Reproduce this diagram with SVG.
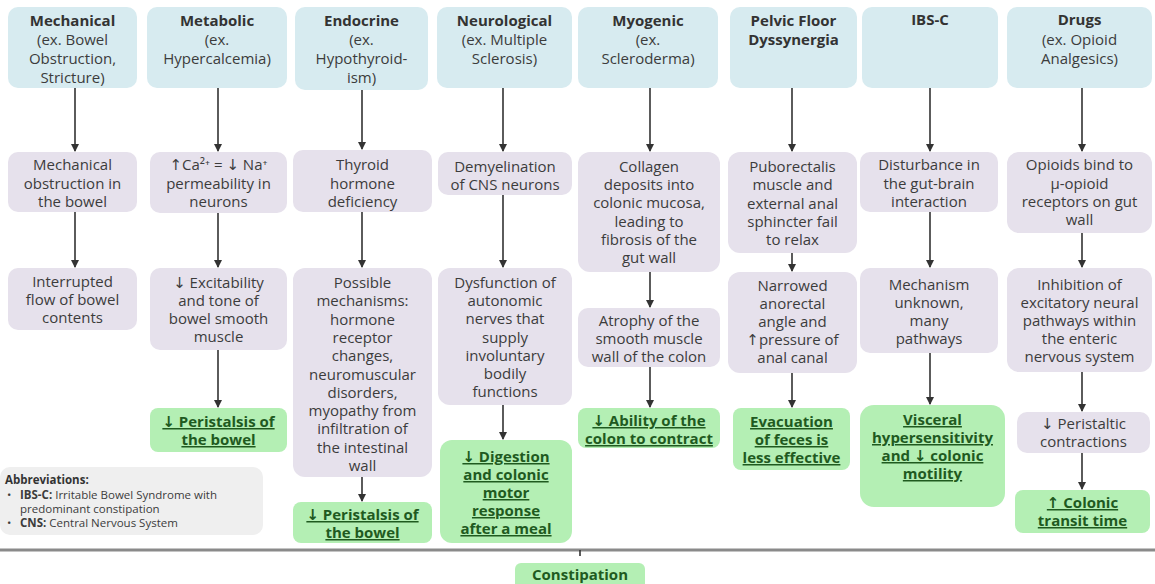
<svg xmlns="http://www.w3.org/2000/svg" width="1155" height="584" viewBox="0 0 1155 584">
<defs>
<marker id="ah" markerWidth="8" markerHeight="8" refX="7" refY="4" orient="auto" markerUnits="userSpaceOnUse">
<path d="M0,0 L8,4 L0,8 Z" fill="#333"/>
</marker>
<style>
.hdr{fill:#d7ebf0}
.mid{fill:#e6e1ec}
.grn{fill:#b4efb4}
.abb{fill:#efefef}
text{font-family:"Open Sans","DejaVu Sans",sans-serif;font-size:15px;text-anchor:middle;fill:#3c3c3c}
.b{font-weight:bold;fill:#333}
.g{font-weight:bold;fill:#1f5a1f;text-decoration:underline}
.cn{font-weight:bold;fill:#1f5a1f}
.s{font-size:11.5px;text-anchor:start}
.con line{stroke:#333;stroke-width:1.6;marker-end:url(#ah)}
</style>
</defs>
<rect width="1155" height="584" fill="#fff"/>

<!-- Headers -->
<g id="h1"><rect class="hdr" x="8" y="7" width="129" height="81" rx="10"/>
<text x="72.5" y="26" class="b">Mechanical</text><text x="72.5" y="45">(ex. Bowel</text><text x="72.5" y="64">Obstruction,</text><text x="72.5" y="83">Stricture)</text></g>
<g id="h2"><rect class="hdr" x="147" y="7" width="140" height="81" rx="10"/>
<text x="217" y="26" class="b">Metabolic</text><text x="217" y="45">(ex.</text><text x="217" y="64">Hypercalcemia)</text></g>
<g id="h3"><rect class="hdr" x="295" y="7" width="133" height="83" rx="10"/>
<text x="361.5" y="26" class="b">Endocrine</text><text x="361.5" y="45">(ex.</text><text x="361.5" y="64">Hypothyroid-</text><text x="361.5" y="83">ism)</text></g>
<g id="h4"><rect class="hdr" x="437" y="7" width="135" height="81" rx="10"/>
<text x="504.5" y="26" class="b">Neurological</text><text x="504.5" y="45">(ex. Multiple</text><text x="504.5" y="64">Sclerosis)</text></g>
<g id="h5"><rect class="hdr" x="578" y="7" width="140" height="81" rx="10"/>
<text x="648" y="26" class="b">Myogenic</text><text x="648" y="45">(ex.</text><text x="648" y="64">Scleroderma)</text></g>
<g id="h6"><rect class="hdr" x="730" y="7" width="127" height="81" rx="10"/>
<text x="793.5" y="26" class="b">Pelvic Floor</text><text x="793.5" y="45" class="b">Dyssynergia</text></g>
<g id="h7"><rect class="hdr" x="862" y="7" width="136" height="81" rx="10"/>
<text x="930" y="25" class="b">IBS-C</text></g>
<g id="h8"><rect class="hdr" x="1007" y="7" width="145" height="81" rx="10"/>
<text x="1079.5" y="25" class="b">Drugs</text><text x="1079.5" y="45">(ex. Opioid</text><text x="1079.5" y="64">Analgesics)</text></g>

<!-- Column 1 -->
<g id="c1a"><rect class="mid" x="8" y="152" width="129" height="60" rx="10"/>
<text x="72.5" y="170">Mechanical</text><text x="72.5" y="188.5">obstruction in</text><text x="72.5" y="207">the bowel</text></g>
<g id="c1b"><rect class="mid" x="8" y="268" width="129" height="62" rx="10"/>
<text x="72.5" y="287">Interrupted</text><text x="72.5" y="305">flow of bowel</text><text x="72.5" y="323">contents</text></g>

<!-- Column 2 -->
<g id="c2a"><rect class="mid" x="150" y="152" width="137" height="61" rx="10"/>
<text x="218.5" y="170">↑Ca²⁺ = ↓ Na⁺</text><text x="218.5" y="188.5">permeability in</text><text x="218.5" y="207">neurons</text></g>
<g id="c2b"><rect class="mid" x="150" y="268" width="137" height="82" rx="10"/>
<text x="218.5" y="288">↓ Excitability</text><text x="218.5" y="306">and tone of</text><text x="218.5" y="324">bowel smooth</text><text x="218.5" y="342">muscle</text></g>
<g id="c2c"><rect class="grn" x="150" y="408" width="137" height="44" rx="8"/>
<text x="218.5" y="427" class="g">↓ Peristalsis of</text><text x="218.5" y="445" class="g">the bowel</text></g>

<!-- Column 3 -->
<g id="c3a"><rect class="mid" x="293" y="150" width="139" height="62" rx="10"/>
<text x="362.5" y="170">Thyroid</text><text x="362.5" y="188.5">hormone</text><text x="362.5" y="207">deficiency</text></g>
<g id="c3b"><rect class="mid" x="293" y="268" width="139" height="209" rx="12"/>
<text x="362.5" y="288">Possible</text><text x="362.5" y="306.3">mechanisms:</text><text x="362.5" y="324.6">hormone</text><text x="362.5" y="342.9">receptor</text><text x="362.5" y="361.2">changes,</text><text x="362.5" y="379.5">neuromuscular</text><text x="362.5" y="397.8">disorders,</text><text x="362.5" y="416.1">myopathy from</text><text x="362.5" y="434.4">infiltration of</text><text x="362.5" y="452.7">the intestinal</text><text x="362.5" y="471">wall</text></g>
<g id="c3c"><rect class="grn" x="293" y="502" width="139" height="41" rx="8"/>
<text x="362.5" y="520" class="g">↓ Peristalsis of</text><text x="362.5" y="538" class="g">the bowel</text></g>

<!-- Column 4 -->
<g id="c4a"><rect class="mid" x="438" y="152" width="134" height="43" rx="10"/>
<text x="505" y="172">Demyelination</text><text x="505" y="190">of CNS neurons</text></g>
<g id="c4b"><rect class="mid" x="438" y="268" width="134" height="137" rx="12"/>
<text x="505" y="288">Dysfunction of</text><text x="505" y="306.2">autonomic</text><text x="505" y="324.4">nerves that</text><text x="505" y="342.6">supply</text><text x="505" y="360.8">involuntary</text><text x="505" y="379">bodily</text><text x="505" y="397">functions</text></g>
<g id="c4c"><rect class="grn" x="440" y="440" width="132" height="103" rx="12"/>
<text x="506" y="462" class="g">↓ Digestion</text><text x="506" y="480" class="g">and colonic</text><text x="506" y="498" class="g">motor</text><text x="506" y="516" class="g">response</text><text x="506" y="534" class="g">after a meal</text></g>

<!-- Column 5 -->
<g id="c5a"><rect class="mid" x="578" y="152" width="142" height="120" rx="12"/>
<text x="649" y="172">Collagen</text><text x="649" y="190.2">deposits into</text><text x="649" y="208.4">colonic mucosa,</text><text x="649" y="226.6">leading to</text><text x="649" y="244.8">fibrosis of the</text><text x="649" y="263">gut wall</text></g>
<g id="c5b"><rect class="mid" x="578" y="308" width="142" height="59" rx="10"/>
<text x="649" y="326">Atrophy of the</text><text x="649" y="344">smooth muscle</text><text x="649" y="362">wall of the colon</text></g>
<g id="c5c"><rect class="grn" x="578" y="408" width="142" height="40" rx="8"/>
<text x="649" y="426" class="g">↓ Ability of the</text><text x="649" y="444" class="g">colon to contract</text></g>

<!-- Column 6 -->
<g id="c6a"><rect class="mid" x="728" y="152" width="129" height="101" rx="12"/>
<text x="792.5" y="172">Puborectalis</text><text x="792.5" y="190">muscle and</text><text x="792.5" y="208.5">external anal</text><text x="792.5" y="227">sphincter fail</text><text x="792.5" y="245">to relax</text></g>
<g id="c6b"><rect class="mid" x="728" y="272" width="129" height="101" rx="12"/>
<text x="792.5" y="291">Narrowed</text><text x="792.5" y="309">anorectal</text><text x="792.5" y="327">angle and</text><text x="792.5" y="345">↑pressure of</text><text x="792.5" y="363">anal canal</text></g>
<g id="c6c"><rect class="grn" x="733" y="408" width="117" height="62" rx="8"/>
<text x="791.5" y="427" class="g">Evacuation</text><text x="791.5" y="445" class="g">of feces is</text><text x="791.5" y="463" class="g">less effective</text></g>

<!-- Column 7 -->
<g id="c7a"><rect class="mid" x="860" y="152" width="138" height="60" rx="10"/>
<text x="929" y="170">Disturbance in</text><text x="929" y="188.5">the gut-brain</text><text x="929" y="207">interaction</text></g>
<g id="c7b"><rect class="mid" x="860" y="268" width="138" height="85" rx="10"/>
<text x="929" y="290">Mechanism</text><text x="929" y="308">unknown,</text><text x="929" y="326">many</text><text x="929" y="344">pathways</text></g>
<g id="c7c"><rect class="grn" x="860" y="405" width="145" height="102" rx="14"/>
<text x="932.5" y="425" class="g">Visceral</text><text x="932.5" y="443" class="g">hypersensitivity</text><text x="932.5" y="461" class="g">and ↓ colonic</text><text x="932.5" y="479" class="g">motility</text></g>

<!-- Column 8 -->
<g id="c8a"><rect class="mid" x="1007" y="152" width="145" height="81" rx="12"/>
<text x="1079.5" y="170">Opioids bind to</text><text x="1079.5" y="188.5">μ-opioid</text><text x="1079.5" y="207">receptors on gut</text><text x="1079.5" y="225">wall</text></g>
<g id="c8b"><rect class="mid" x="1007" y="268" width="145" height="104" rx="12"/>
<text x="1079.5" y="290">Inhibition of</text><text x="1079.5" y="308">excitatory neural</text><text x="1079.5" y="326">pathways within</text><text x="1079.5" y="344">the enteric</text><text x="1079.5" y="362">nervous system</text></g>
<g id="c8c"><rect class="mid" x="1017" y="412" width="133" height="41" rx="10"/>
<text x="1083.5" y="429">↓ Peristaltic</text><text x="1083.5" y="447">contractions</text></g>
<g id="c8d"><rect class="grn" x="1015" y="490" width="135" height="43" rx="8"/>
<text x="1082.5" y="508" class="g">↑ Colonic</text><text x="1082.5" y="526" class="g">transit time</text></g>

<!-- Abbreviations -->
<g id="abbr"><rect class="abb" x="0" y="467" width="263" height="68" rx="10"/>
<text x="5" y="484" class="s b">Abbreviations:</text>
<text x="7" y="498.5" class="s">•</text><text x="20" y="498.5" class="s"><tspan font-weight="bold">IBS-C:</tspan> Irritable Bowel Syndrome with</text>
<text x="20" y="512.8" class="s">predominant constipation</text>
<text x="7" y="527" class="s">•</text><text x="20" y="527" class="s"><tspan font-weight="bold">CNS:</tspan> Central Nervous System</text></g>

<!-- Divider and result -->
<g id="divider"><line x1="0" y1="550" x2="1155" y2="550" stroke="#8a8a8a" stroke-width="3"/></g>
<g id="result"><rect class="grn" x="515" y="563" width="130" height="30" rx="6"/>
<text x="580" y="580" class="cn">Constipation</text></g>

<!-- Connectors -->
<g id="connectors" class="con">
<line x1="75" y1="88" x2="75" y2="151"/>
<line x1="75" y1="212" x2="75" y2="267"/>
<line x1="218" y1="88" x2="218" y2="151"/>
<line x1="218" y1="213" x2="218" y2="267"/>
<line x1="218" y1="350" x2="218" y2="407"/>
<line x1="362" y1="90" x2="362" y2="149"/>
<line x1="362" y1="212" x2="362" y2="267"/>
<line x1="362" y1="477" x2="362" y2="501"/>
<line x1="503" y1="88" x2="503" y2="151"/>
<line x1="503" y1="195" x2="503" y2="267"/>
<line x1="503" y1="405" x2="503" y2="439"/>
<line x1="650" y1="88" x2="650" y2="151"/>
<line x1="650" y1="272" x2="650" y2="307"/>
<line x1="650" y1="367" x2="650" y2="407"/>
<line x1="792" y1="88" x2="792" y2="151"/>
<line x1="792" y1="253" x2="792" y2="271"/>
<line x1="792" y1="373" x2="792" y2="407"/>
<line x1="930" y1="88" x2="930" y2="151"/>
<line x1="930" y1="212" x2="930" y2="267"/>
<line x1="930" y1="353" x2="930" y2="404"/>
<line x1="1082" y1="88" x2="1082" y2="151"/>
<line x1="1082" y1="233" x2="1082" y2="267"/>
<line x1="1082" y1="372" x2="1082" y2="411"/>
<line x1="1082" y1="453" x2="1082" y2="489"/>
<line x1="580" y1="550" x2="580" y2="556" style="marker-end:none"/>
</g>
</svg>
